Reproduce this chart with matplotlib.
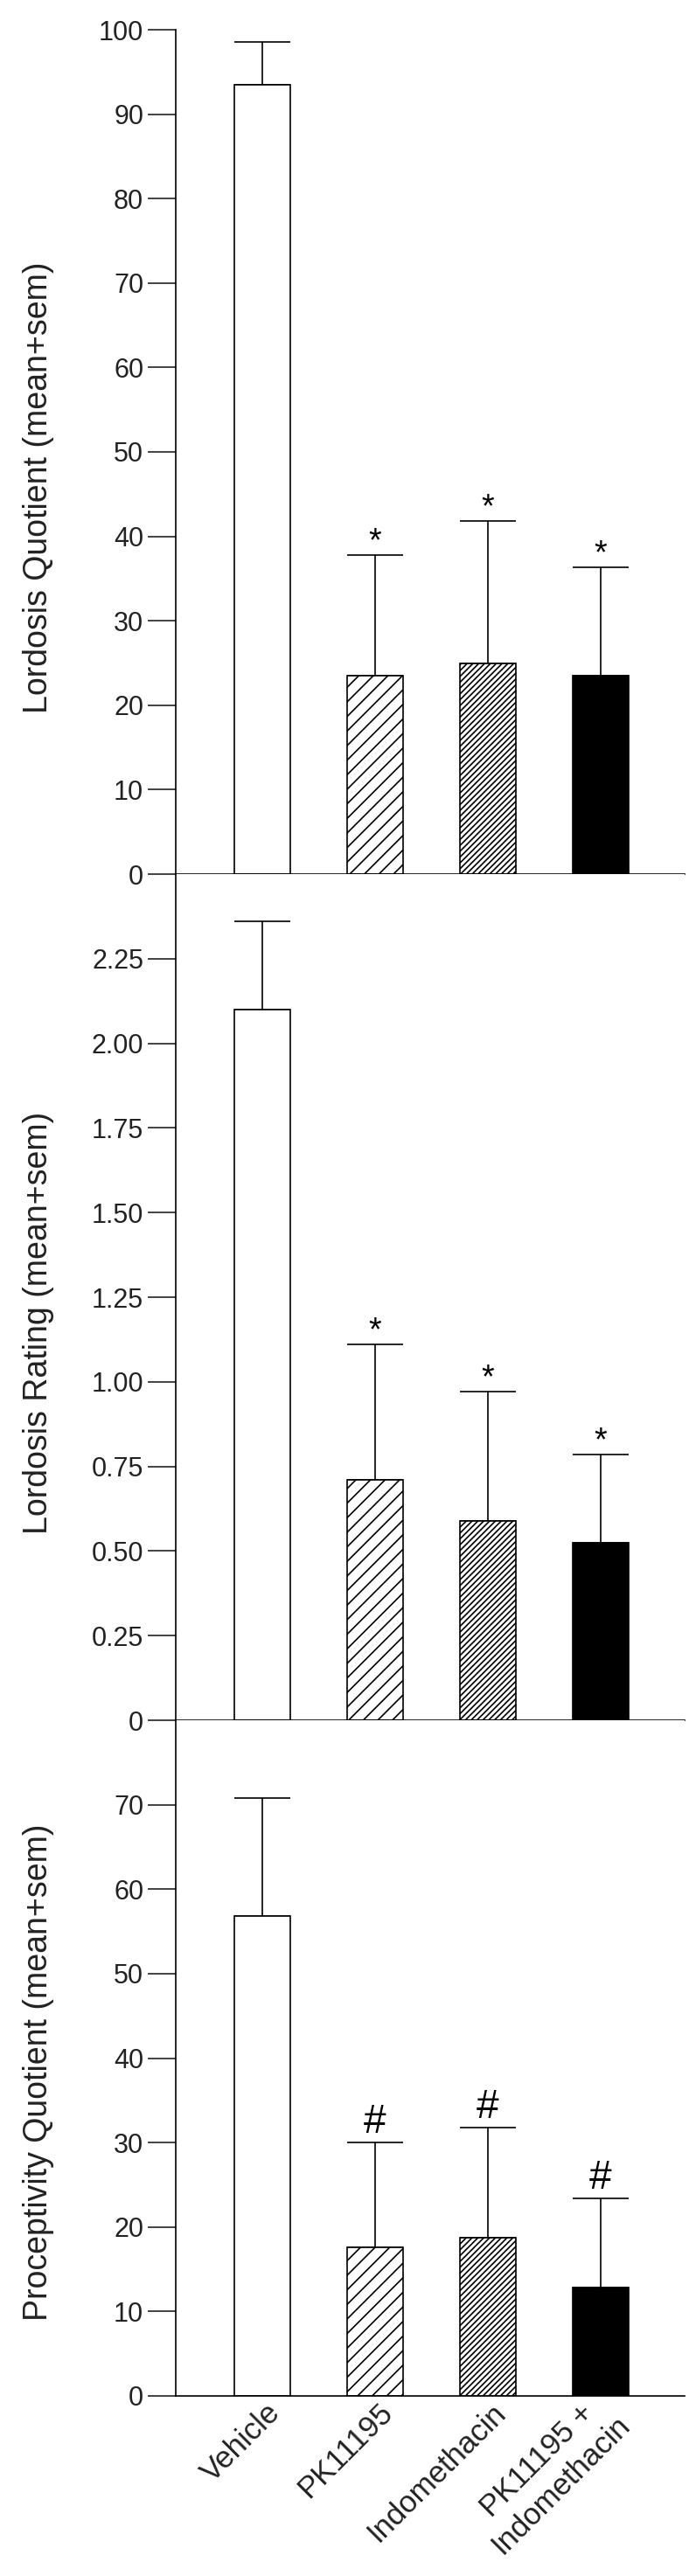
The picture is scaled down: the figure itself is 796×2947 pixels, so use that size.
import matplotlib
matplotlib.use('Agg')
import matplotlib.pyplot as plt
from matplotlib.transforms import ScaledTranslation

plt.rcParams['font.family'] = ['Liberation Sans', 'DejaVu Sans']
plt.rcParams['hatch.linewidth'] = 1.2

# data
groups = ['Vehicle', 'PK11195', 'Indomethacin', 'PK11195 +\nIndomethacin']
lq_mean = [93.5, 23.5, 25.0, 23.5]
lq_sem = [5.0, 14.3, 16.8, 12.8]
lr_mean = [2.10, 0.71, 0.59, 0.525]
lr_sem = [0.26, 0.40, 0.38, 0.26]
pq_mean = [56.8, 17.6, 18.7, 12.8]
pq_sem = [14.0, 12.4, 13.1, 10.6]

lq_ticks = [0, 10, 20, 30, 40, 50, 60, 70, 80, 90, 100]
lr_ticks = [0, 0.25, 0.50, 0.75, 1.00, 1.25, 1.50, 1.75, 2.00, 2.25]
lr_ticklabels = ['0', '0.25', '0.50', '0.75', '1.00', '1.25', '1.50', '1.75', '2.00', '2.25']
pq_ticks = [0, 10, 20, 30, 40, 50, 60, 70]

face = ['white', 'white', 'white', 'black']
hatches = ['', '//', '/////', '']

W, H = 796, 2947
fig = plt.figure(figsize=(W / 100, H / 100), dpi=100)


def make_ax(top, bottom):
    left, right = 201, 783
    return fig.add_axes([left / W, 1 - bottom / H, (right - left) / W, (bottom - top) / H])


def panel(ax, mean, sem, ylim, ticks, ticklabels, ylabel, label_y, mark, mark_size, mark_off):
    x = range(len(mean))
    bars = ax.bar(x, mean, width=0.5, color=face, edgecolor='black', linewidth=1.2, zorder=2)
    for b, h in zip(bars, hatches):
        b.set_hatch(h)
    ax.errorbar(x, mean, yerr=[[0] * len(sem), sem], fmt='none', ecolor='black',
                elinewidth=1.2, capsize=23, capthick=1.2, zorder=1)
    for i in range(1, len(mean)):
        ax.annotate(mark, xy=(i, mean[i] + sem[i]), xytext=(0, mark_off),
                    textcoords='offset points', ha='center', va='baseline',
                    fontsize=mark_size)
    ax.set_xlim(-0.767, 3.744)
    ax.set_ylim(*ylim)
    ax.set_yticks(ticks)
    ax.set_yticklabels(ticklabels)
    ax.spines['top'].set_visible(False)
    ax.spines['right'].set_visible(False)
    ax.spines['left'].set_linewidth(1.2)
    ax.spines['bottom'].set_linewidth(1.2)
    ax.tick_params(axis='y', length=23, width=1.2, pad=3.5, labelsize=22, colors='#222222')
    ax.tick_params(axis='x', length=0)
    ax.set_ylabel(ylabel, fontsize=27, color='#222222')
    ax.yaxis.set_label_coords(-0.239, label_y)


ax1 = make_ax(34, 1000)
panel(ax1, lq_mean, lq_sem, (0, 100), lq_ticks, [str(t) for t in lq_ticks],
      'Lordosis Quotient (mean+sem)', 0.458, '*', 27, 3.5)
ax1.set_xticks([])

ax2 = make_ax(1000, 1968)
panel(ax2, lr_mean, lr_sem, (0, 2.5), lr_ticks, lr_ticklabels,
      'Lordosis Rating (mean+sem)', 0.470, '*', 27, 3.5)
ax2.set_xticks([])

ax3 = make_ax(1968, 2741)
panel(ax3, pq_mean, pq_sem, (0, 80), pq_ticks, [str(t) for t in pq_ticks],
      'Proceptivity Quotient (mean+sem)', 0.479, '#', 33, 8)
ax3.set_xticks(range(len(groups)))
ax3.set_xticklabels(groups, rotation=45, rotation_mode='anchor', ha='right', va='center',
                    multialignment='center', fontsize=25, color='#222222')
ax3.tick_params(axis='x', pad=10)
shift = ScaledTranslation(0.15, 0, fig.dpi_scale_trans)
for lab in ax3.get_xticklabels():
    lab.set_transform(lab.get_transform() + shift)

plt.savefig('out.png', dpi=100)
